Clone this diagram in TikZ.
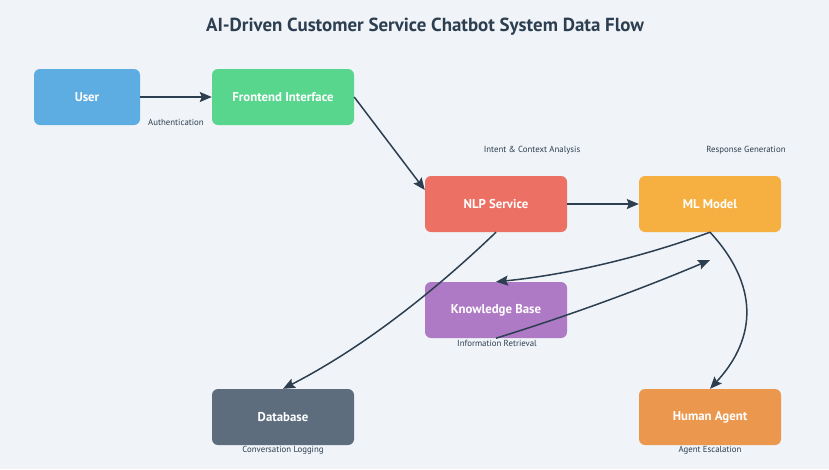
\documentclass[tikz,border=0pt]{standalone}
\usepackage{fontspec}
\setmainfont{PT Sans}
\usetikzlibrary{arrows.meta}
\tikzset{>={Stealth[length=12pt,width=10pt,inset=2pt]}}
\definecolor{bgcol}{HTML}{F0F4F8}
\definecolor{ink}{HTML}{2C3E50}
\definecolor{usercol}{HTML}{5DADE2}
\definecolor{frontcol}{HTML}{58D68D}
\definecolor{nlpcol}{HTML}{EC7063}
\definecolor{mlcol}{HTML}{F5B041}
\definecolor{kbcol}{HTML}{AF7AC5}
\definecolor{dbcol}{HTML}{5D6D7E}
\definecolor{agentcol}{HTML}{EB984E}
\tikzset{
  box/.style={rounded corners=6pt, minimum width=142pt, minimum height=56pt, inner sep=0pt,
    text=white, font=\fontsize{12.8}{14}\selectfont\bfseries},
  lbl/.style={text=ink, inner sep=0pt, font=\fontsize{8.8}{10}\selectfont},
  flow/.style={->, draw=ink, line width=1.5pt}
}

\begin{document}
\begin{tikzpicture}[x=1pt, y=-1pt]
    \fill[bgcol] (0,0) rectangle (829,469);
    \node[text=ink, font=\fontsize{18.9}{22}\selectfont\bfseries] (title) at (425,27) {AI-Driven Customer Service Chatbot System Data Flow};
    \node[box, fill=usercol, minimum width=106pt] (user) at (87,97) {User};
    \node[box, fill=frontcol] (front) at (283,97) {Frontend Interface};
    \node[box, fill=nlpcol] (nlp) at (496,204) {NLP Service};
    \node[box, fill=mlcol] (ml) at (710,204) {ML Model};
    \node[box, fill=kbcol] (kb) at (496,310) {Knowledge Base};
    \node[box, fill=dbcol] (db) at (283,417) {Database};
    \node[box, fill=agentcol] (agent) at (710,417) {Human Agent};
    \coordinate (kbret) at (710,260);
    % connectors
    \draw[flow] (user.east) -- (front.west);
    \draw[flow] (front.east) -- ([yshift=14pt]nlp.west);
    \draw[flow] (nlp.east) -- (ml.west);
    \draw[flow] (ml.south) .. controls +(-71,26) and +(70,-7) .. (kb.north);
    \draw[flow] (kb.south) .. controls +(71,-22) and +(-71,30) .. (kbret);
    \draw[flow] (nlp.south) .. controls +(-71,68) and +(72,-37) .. (db.north);
    \draw[flow] (ml.south) .. controls +(48,52) and +(48,-52) .. (agent.north);
    % labels
    \node[lbl] (authlbl) at (176,122) {Authentication};
    \node[lbl] (intentlbl) at (532,150) {Intent \& Context Analysis};
    \node[lbl] (resplbl) at (746,150) {Response Generation};
    \node[lbl] (infolbl) at (497,343) {Information Retrieval};
    \node[lbl] (loglbl) at (283,450) {Conversation Logging};
    \node[lbl] (esclbl) at (710,450) {Agent Escalation};
\end{tikzpicture}
\end{document}
